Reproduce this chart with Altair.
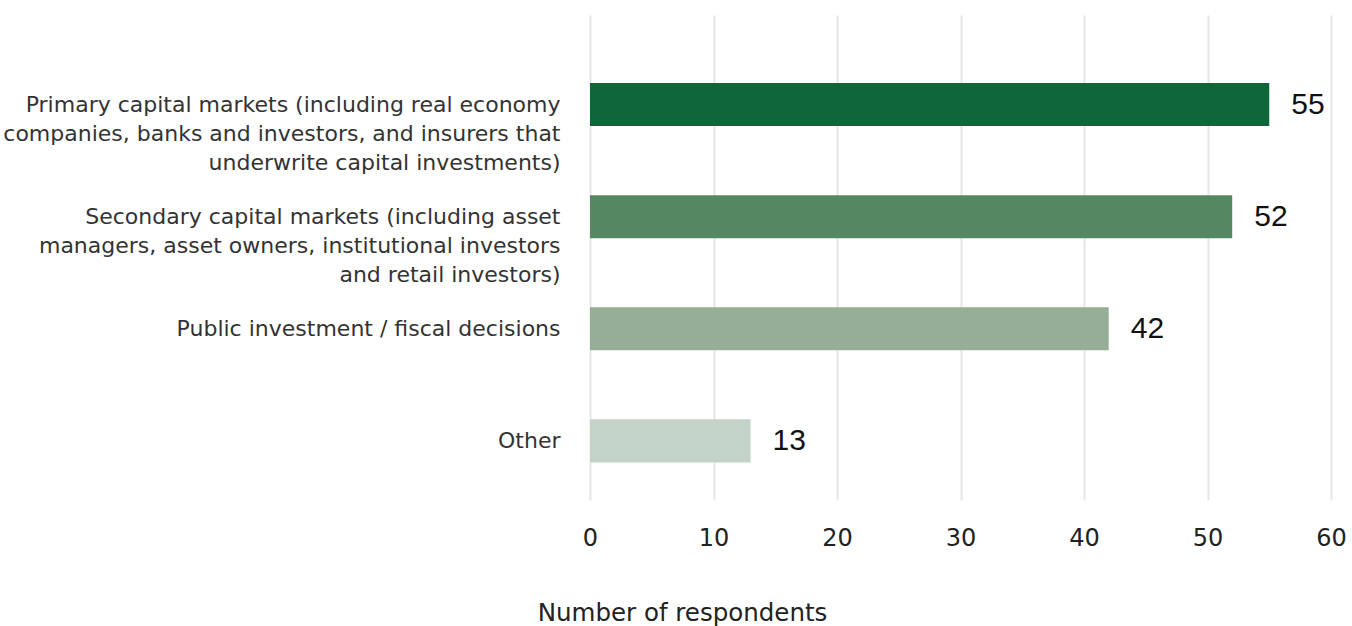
import altair as alt
import pandas as pd

categories = [
    "Primary capital markets (including real economy|companies, banks and investors, and insurers that|underwrite capital investments)",
    "Secondary capital markets (including asset|managers, asset owners, institutional investors|and retail investors)",
    "Public investment / fiscal decisions",
    "Other",
]
values = [55, 52, 42, 13]
colors = ["#0f6638", "#568763", "#96ae96", "#c4d3c8"]
x_ticks = [0, 10, 20, 30, 40, 50, 60]

df = pd.DataFrame({"category": categories, "value": values, "color": colors})

y_enc = alt.Y(
    "category:N",
    sort=categories,
    title=None,
    scale=alt.Scale(paddingInner=0.616, paddingOuter=0.471, align=0.644),
    axis=alt.Axis(
        labelExpr="split(datum.label, '|')",
        labelFontSize=22,
        labelFont="DejaVu Sans",
        labelColor="#333333",
        labelPadding=30,
        labelLineHeight=29,
        labelLimit=600,
        ticks=False,
        domain=False,
        grid=False,
    ),
)

x_enc = alt.X(
    "value:Q",
    title="Number of respondents",
    scale=alt.Scale(domain=[0, 60], nice=False),
    axis=alt.Axis(
        values=x_ticks,
        labelFontSize=24,
        labelFont="DejaVu Sans",
        labelColor="#222222",
        labelPadding=26,
        labelFlush=False,
        ticks=False,
        domain=False,
        grid=True,
        gridColor="#e6e6e6",
        gridWidth=2,
        titleFontSize=24.5,
        titleFont="DejaVu Sans",
        titleFontWeight="normal",
        titleColor="#222222",
        titleX=92,
        titleY=101,
    ),
)

bars = alt.Chart(df).mark_bar().encode(
    x=x_enc,
    y=y_enc,
    color=alt.Color("color:N", scale=None),
)

text = alt.Chart(df).mark_text(
    align="left", baseline="middle", dx=22, fontSize=30, font="Liberation Sans", color="#111111"
).encode(
    x="value:Q",
    y=alt.Y("category:N", sort=categories),
    text="value:Q",
)

chart = (
    (bars + text)
    .properties(
        width=741,
        height=485,
        autosize=alt.AutoSizeParams(type="none"),
        padding={"left": 590, "top": 15, "right": 21, "bottom": 126},
    )
    .configure_view(stroke=None)
)

chart.save("out.html", embed_options={"renderer": "svg", "actions": False})
